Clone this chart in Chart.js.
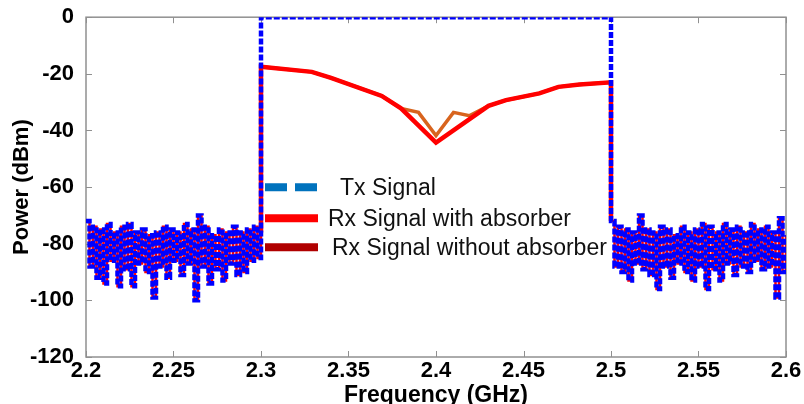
<!DOCTYPE html>
<html>
<head>
<meta charset="utf-8">
<script src="https://cdn.jsdelivr.net/npm/chart.js@4.4.1/dist/chart.umd.min.js"></script>
<style>
  html, body { margin: 0; padding: 0; background: #fff; }
  canvas { display: block; }
</style>
</head>
<body>
<canvas id="spectrumChart" width="804" height="404"></canvas>
<script>
// out-of-band noise floor, 2.2 - 2.3 GHz
const lowFreq = [2.200, 2.202, 2.204, 2.206, 2.208, 2.210, 2.212, 2.214, 2.216, 2.218,
                 2.220, 2.222, 2.224, 2.226, 2.228, 2.230, 2.232, 2.234, 2.236, 2.238,
                 2.240, 2.242, 2.244, 2.246, 2.248, 2.250, 2.252, 2.254, 2.256, 2.258,
                 2.260, 2.262, 2.264, 2.266, 2.268, 2.270, 2.272, 2.274, 2.276, 2.278,
                 2.280, 2.282, 2.284, 2.286, 2.288, 2.290, 2.292, 2.294, 2.296, 2.298];
const lowNoise = [-72, -88, -74, -92, -75, -94, -73, -86, -76, -95,
                  -74, -89, -73, -95, -76, -87, -75, -90, -77, -99,
                  -76, -88, -74, -92, -75, -86, -76, -91, -73, -87,
                  -75, -100, -70, -88, -74, -94, -77, -89, -75, -93,
                  -76, -87, -74, -91, -76, -90, -75, -86, -74, -85];

// out-of-band noise floor, 2.5 - 2.6 GHz
const highFreq = [2.502, 2.504, 2.506, 2.508, 2.510, 2.512, 2.514, 2.516, 2.518, 2.520,
                  2.522, 2.524, 2.526, 2.528, 2.530, 2.532, 2.534, 2.536, 2.538, 2.540,
                  2.542, 2.544, 2.546, 2.548, 2.550, 2.552, 2.554, 2.556, 2.558, 2.560,
                  2.562, 2.564, 2.566, 2.568, 2.570, 2.572, 2.574, 2.576, 2.578, 2.580,
                  2.582, 2.584, 2.586, 2.588, 2.590, 2.592, 2.594, 2.596, 2.598, 2.600];
const highNoise = [-88, -74, -90, -75, -93, -76, -87, -70, -89, -75,
                   -91, -76, -96, -74, -88, -75, -92, -77, -87, -74,
                   -90, -76, -93, -75, -88, -73, -96, -74, -89, -76,
                   -93, -73, -87, -75, -91, -74, -88, -76, -90, -73,
                   -86, -75, -89, -74, -88, -76, -99, -71, -90, -77];

// band edges
const edgeFreq = [2.3, 2.5];
const edgeNoise = [-76, -72];

// in-band signals
const txBandFreq = [2.3, 2.5];
const txBandPower = [0, 0];
const rxWithFreq = [2.3, 2.329, 2.340, 2.369, 2.380, 2.400, 2.430, 2.440, 2.459, 2.470, 2.482, 2.5];
const rxWithPower = [-17.5, -19.3, -21.4, -27.8, -32.2, -44.3, -31.3, -29.3, -26.9, -24.6, -23.8, -23.0];
const rxWithoutFreq = [2.3, 2.329, 2.340, 2.369, 2.380, 2.390, 2.400, 2.410, 2.419, 2.430, 2.440, 2.459, 2.470, 2.482, 2.5];
const rxWithoutPower = [-17.5, -19.3, -21.4, -27.8, -32.2, -33.6, -41.8, -33.6, -34.8, -31.3, -29.3, -26.9, -24.6, -23.8, -23.0];

const xTicks = [2.2, 2.25, 2.3, 2.35, 2.4, 2.45, 2.5, 2.55, 2.6];
const xTickLabels = ['2.2', '2.25', '2.3', '2.35', '2.4', '2.45', '2.5', '2.55', '2.6'];
const yTicks = [-120, -100, -80, -60, -40, -20, 0];

const seriesNames = ['Tx Signal', 'Rx Signal with absorber', 'Rx Signal without absorber'];

function toPoints(xs, ys) {
    return xs.map((x, i) => ({ x: x, y: ys[i] }));
}

const lowPoints = toPoints(lowFreq, lowNoise);
const highPoints = toPoints(highFreq, highNoise);

function bandPoints(bandFreq, bandPower) {
    return [
        { x: edgeFreq[0], y: edgeNoise[0] },
        ...toPoints(bandFreq, bandPower),
        { x: edgeFreq[1], y: edgeNoise[1] }
    ];
}

const tickFont = { family: '"Liberation Sans", Arial, sans-serif', size: 22, weight: 'bold' };

// box round the plot with inward tick marks, matlab style
const frameTicks = {
    id: 'frameTicks',
    beforeDatasetsDraw(chart) {
        const { ctx, chartArea: a, scales } = chart;
        ctx.save();
        ctx.strokeStyle = '#909090';
        ctx.lineWidth = 1.5;
        ctx.strokeRect(a.left, a.top, a.right - a.left, a.bottom - a.top);
        ctx.lineWidth = 1;
        ctx.beginPath();
        scales.x.ticks.forEach(t => {
            const px = Math.round(scales.x.getPixelForValue(t.value)) + 0.5;
            ctx.moveTo(px, a.bottom); ctx.lineTo(px, a.bottom - 6);
            ctx.moveTo(px, a.top); ctx.lineTo(px, a.top + 6);
        });
        scales.y.ticks.forEach(t => {
            const py = Math.round(scales.y.getPixelForValue(t.value)) + 0.5;
            ctx.moveTo(a.left, py); ctx.lineTo(a.left + 6, py);
            ctx.moveTo(a.right, py); ctx.lineTo(a.right - 6, py);
        });
        ctx.stroke();
        ctx.restore();
    }
};

// legend sits inside the plot, no box
const innerLegend = {
    id: 'innerLegend',
    afterDatasetsDraw(chart) {
        const { ctx, chartArea: a } = chart;
        const rows = [
            { color: '#0072BD', dash: [22, 8], dy: 170, tx: 254 },
            { color: '#FF0000', dash: [], dy: 201, tx: 242 },
            { color: '#B00000', dash: [], dy: 230, tx: 246 }
        ];
        ctx.save();
        ctx.font = '23px "Liberation Sans", Arial, sans-serif';
        ctx.textBaseline = 'middle';
        ctx.fillStyle = '#111';
        rows.forEach((r, i) => {
            const y = a.top + r.dy;
            ctx.beginPath();
            ctx.setLineDash(r.dash);
            ctx.lineWidth = 8;
            ctx.lineCap = 'butt';
            ctx.strokeStyle = r.color;
            ctx.moveTo(a.left + 179, y);
            ctx.lineTo(a.left + 232, y);
            ctx.stroke();
            ctx.fillText(seriesNames[i], a.left + r.tx, y + 1);
        });
        ctx.restore();
    }
};

const ctx = document.getElementById('spectrumChart').getContext('2d');

const data = {
    datasets: [
        {
            // Tx: noise, jump to 0 dBm across the band, noise again
            label: seriesNames[0],
            data: [...lowPoints, ...bandPoints(txBandFreq, txBandPower), ...highPoints],
            borderColor: '#0000FF',
            borderWidth: 4.5,
            borderDash: [6, 2],
            borderCapStyle: 'butt',
            stepped: true
        },
        {
            label: seriesNames[1] + ' (noise)',
            data: [...lowPoints, { x: edgeFreq[0], y: edgeNoise[0] }, { x: 2.4, y: null },
                   { x: edgeFreq[1], y: edgeNoise[1] }, ...highPoints],
            borderColor: '#FF0000',
            borderWidth: 2.5,
            stepped: true,
            spanGaps: false
        },
        {
            label: seriesNames[1],
            data: bandPoints(rxWithFreq, rxWithPower),
            borderColor: '#FF0000',
            borderWidth: 4.5
        },
        {
            label: seriesNames[2],
            data: bandPoints(rxWithoutFreq, rxWithoutPower),
            borderColor: '#D8641E',
            borderWidth: 3.5
        }
    ]
};

const config = {
    type: 'line',
    data: data,
    options: {
        responsive: false,
        animation: false,
        devicePixelRatio: 1,
        layout: { padding: { left: 0, top: 17, right: 18, bottom: 0 } },
        elements: {
            point: { radius: 0 },
            line: { tension: 0, fill: false }
        },
        plugins: {
            legend: { display: false },
            tooltip: { enabled: false }
        },
        scales: {
            x: {
                type: 'linear',
                min: 2.2,
                max: 2.6,
                grid: { display: false },
                border: { display: false },
                afterBuildTicks: scale => { scale.ticks = xTicks.map(v => ({ value: v })); },
                afterFit: scale => {
                    scale.height = 47;
                    scale.paddingLeft = 0;
                    scale.paddingRight = 0;
                },
                ticks: {
                    color: '#000',
                    font: tickFont,
                    padding: -7,
                    maxRotation: 0,
                    autoSkip: false,
                    callback: (value, index) => xTickLabels[index]
                },
                title: {
                    display: true,
                    text: 'Frequency (GHz)',
                    color: '#000',
                    font: { ...tickFont, size: 23, lineHeight: 1 },
                    padding: { top: 0, bottom: -3 }
                }
            },
            y: {
                min: -120,
                max: 0,
                grid: { display: false },
                border: { display: false },
                afterBuildTicks: scale => { scale.ticks = yTicks.map(v => ({ value: v })); },
                afterFit: scale => { scale.width = 86; },
                ticks: {
                    color: '#000',
                    font: tickFont,
                    padding: 4
                },
                title: {
                    display: true,
                    text: 'Power (dBm)',
                    color: '#000',
                    font: { ...tickFont, lineHeight: 1 },
                    padding: { top: 11, bottom: 0 }
                }
            }
        }
    },
    plugins: [frameTicks, innerLegend]
};

if (window.spectrumChart instanceof Chart) {
    window.spectrumChart.destroy();
}
window.spectrumChart = new Chart(ctx, config);
</script>
</body>
</html>
